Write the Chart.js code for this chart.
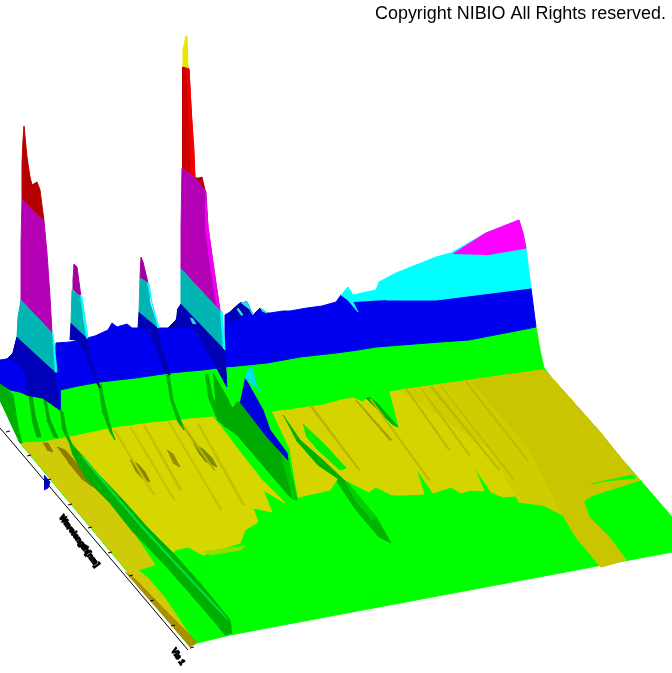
<!DOCTYPE html>
<html>
<head>
<meta charset="utf-8">
<style>
  html, body { margin: 0; padding: 0; background: #fff; }
  canvas { display: block; }
</style>
<script src="https://cdn.jsdelivr.net/npm/chart.js@4"></script>
</head>
<body>
<canvas id="surface" width="672" height="673"></canvas>
<script>
// outlines, in picture units
const floorGreen = [[0,380],[0,400],[20,443],[190,647],[197,643],[230,635],[336,615],[672,552],[672,517],[640,480],[552,378],[544,368],[540,350],[536,327],[376,340],[227,360],[60,385]];
const yellowCenter = [[70,437],[113,428],[150,423],[190,419],[213,417],[222,428],[240,452],[262,480],[285,503],[263,490],[272,512],[253,508],[258,522],[245,530],[240,543],[203,555],[188,547],[175,550],[173,553],[147,527],[123,500],[97,473],[77,450]];
const yellowRight = [[272,412],[287,410],[323,405],[341,400],[353,398],[363,402],[369,397],[398,427],[389,392],[436,385],[500,376],[543,370],[552,378],[600,432],[636,477],[640,480],[593,495],[583,500],[589,517],[609,537],[626,560],[601,567],[576,537],[563,515],[543,505],[519,502],[526,495],[503,497],[491,492],[473,465],[484,491],[471,490],[461,493],[451,487],[433,493],[416,468],[424,494],[405,495],[393,495],[389,480],[392,495],[376,487],[369,492],[345,480],[338,478],[330,490],[298,497],[290,450]];
const yellowMid = [[400,390],[436,385],[500,376],[543,370],[552,378],[600,432],[636,477],[600,490],[563,515],[543,505],[519,502],[490,450]];
const yellowFarRight = [[470,380],[500,376],[543,370],[552,378],[600,432],[636,477],[640,480],[593,495],[583,500],[589,517],[609,537],[626,560],[601,567],[576,537],[563,515],[550,490],[530,450]];
const greenSliver = [[591,484],[633,475],[636,478],[605,481]];
const yellowLeft = [[20,443],[43,442],[70,437],[77,450],[72,453],[87,480],[110,503],[133,532],[155,565],[138,570],[148,578],[165,598],[195,643],[190,647]];
const oliveEdge = [[125,572],[134,578],[170,615],[197,642],[190,647]];
const darkStrip = [[68,440],[77,450],[97,473],[123,500],[147,527],[173,553],[200,583],[230,620],[232,633],[225,635],[213,620],[187,590],[163,563],[133,532],[110,503],[87,480],[72,453]];
const stripLine = [[82,455],[143,527],[180,567],[220,610],[228,620],[219,611],[179,568],[142,528],[81,456]];
const limeStrip = [[203,552],[245,546],[240,550],[210,555]];
const rightLens = [[336,470],[356,493],[376,517],[391,543],[379,537],[356,510],[336,480]];
const rightLensLit = [[340,474],[358,495],[376,518],[372,520],[355,500]];
const rightStreak = [[283,415],[300,440],[325,462],[346,482],[340,480],[318,465],[296,440]];
const greenStreak = [[303,424],[325,445],[346,468],[340,470],[318,450],[306,436]];
const wedge = [[213,373],[230,403],[240,402],[288,460],[297,500],[290,497],[237,435],[217,420]];
const wedgeEdge = [[288,460],[297,500],[293,499],[280,450]];
const greenDip = [[369,397],[376,400],[398,427],[389,392],[380,375],[358,385]];
const dipShade = [[369,397],[378,404],[398,427],[392,424],[366,398]];

const leftGreenDark = [[0,383],[13,395],[18,427],[22,443],[20,443],[0,400]];
const ridgeA = [[28,393],[32,395],[35,415],[41,437],[37,437],[32,420]];
const ridgeB = [[43,398],[46,400],[50,420],[58,438],[54,437],[47,420]];
const ridgeC = [[60,410],[63,412],[66,430],[72,445],[68,440],[62,428]];
const ridgeD = [[98,384],[101,384],[105,405],[112,432],[115,440],[110,432],[102,410]];
const ridgeE = [[166,375],[169,375],[173,400],[182,424],[184,430],[178,422],[170,398]];
const ridgeF = [[205,375],[208,374],[212,395],[222,420],[226,428],[216,416],[208,396]];

const streakA = [[130,460],[138,464],[145,472],[150,482],[142,478],[135,470]];
const streakB = [[167,450],[173,454],[180,467],[173,463]];
const streakC = [[193,443],[204,450],[212,458],[217,467],[205,461],[198,452]];
const streakD = [[43,443],[48,443],[53,452],[47,450]];
const streakE = [[57,447],[65,450],[80,467],[93,487],[82,479],[68,462]];
const streakF = [[143,426],[145,425],[182,490],[179,490]];
const streakG = [[113,430],[115,430],[155,495],[152,494]];
const streakH = [[197,424],[199,424],[245,505],[242,505]];
const streakI = [[355,400],[358,402],[392,440],[389,440]];
const streakJ = [[430,387],[432,386],[500,470],[498,470]];
const streakK = [[465,382],[467,382],[528,460],[526,460]];
const streakL = [[130,428],[131,427],[175,500],[173,500]];
const streakM = [[168,422],[169,421],[222,510],[220,510]];
const streakN = [[178,421],[180,420],[215,470],[213,470]];
const streakO = [[310,407],[312,406],[360,470],[358,470]];
const streakP = [[405,389],[407,389],[450,450],[448,450]];
const streakQ = [[420,388],[421,388],[470,455],[468,455]];
const streakR = [[370,400],[371,399],[430,480],[428,480]];
const streakS = [[440,386],[441,386],[515,480],[513,480]];

const blueBack = [[0,362],[7,359],[13,353],[17,337],[55,372],[56,343],[70,342],[87,338],[95,336],[108,330],[112,323],[117,327],[127,324],[132,328],[138,328],[158,328],[168,328],[176,320],[181,304],[225,350],[225,315],[230,312],[240,303],[247,302],[253,315],[260,308],[265,313],[270,313],[283,311],[290,311],[307,308],[322,306],[336,302],[341,295],[353,302],[386,300],[436,300],[531,288],[536,327],[469,340],[440,342],[376,347],[358,350],[336,353],[300,357],[267,363],[227,367],[202,370],[170,373],[135,378],[100,382],[78,386],[60,390],[60,410],[43,398],[27,395],[0,383]];
const navyLeft = [[0,362],[7,359],[13,353],[17,337],[55,372],[60,410],[43,398],[27,395],[25,372],[13,360],[7,359]];
const blueBlob = [[0,360],[7,359],[13,365],[20,373],[25,393],[10,390],[0,383]];
const navyB = [[70,340],[71,323],[87,338],[90,358],[100,388],[96,382],[87,358],[78,340]];
const navyC = [[138,328],[139,312],[158,328],[161,345],[170,375],[165,372],[155,345],[148,330]];
const navyD = [[177,310],[181,304],[225,350],[227,387],[207,350],[193,327],[170,327],[176,320]];
const midBump = [[230,312],[240,303],[247,302],[250,312],[240,318],[228,322]];
const bumpCyan = [[241,303],[247,302],[253,315],[250,310]];
const bumpCyanB = [[238,308],[243,315],[241,315],[237,309]];
const bumpCyanC = [[260,308],[264,310],[267,313],[262,311]];
const navyCyan = [[190,318],[193,319],[196,324],[192,323]];
const greenNotch = [[227,367],[228,385],[230,403],[233,407],[238,398],[243,385],[247,370]];
const blueTri = [[245,378],[263,410],[270,430],[287,453],[288,460],[267,437],[240,402]];
const cyanTri = [[247,370],[252,368],[258,390],[262,392],[245,378]];

const cyanBand = [[353,302],[358,312],[348,300],[341,295],[348,287],[353,295],[376,290],[379,282],[396,273],[436,257],[451,253],[486,233],[519,220],[523,233],[526,248],[531,288],[436,300],[386,300]];
const magentaCap = [[453,254],[486,233],[519,220],[523,233],[526,248],[486,255]];

const peak1Red = [[22,199],[22,163],[23,140],[24,126],[27,157],[30,177],[32,185],[37,182],[40,190],[44,221]];
const peak1Magenta = [[21,301],[21,243],[22,199],[44,221],[47,253],[50,297],[52,333]];
const peak1Cyan = [[17,337],[18,317],[21,300],[52,333],[55,372]];
const peak1Edge = [[52,333],[53,333],[57,372],[55,372]];
const peak2Magenta = [[73,290],[73,280],[74,264],[77,267],[81,297]];
const peak2Cyan = [[71,323],[72,290],[81,297],[83,320],[87,338]];
const peak2Edge = [[80,295],[82,297],[88,338],[86,338]];
const peak3Magenta = [[140,278],[141,257],[143,262],[148,283]];
const peak3Cyan = [[139,312],[140,278],[148,283],[150,303],[158,328]];
const peak3Edge = [[147,283],[149,284],[152,303],[159,328],[157,327]];
const peak4Yellow = [[183,67],[183,50],[186,36],[187,36],[188,68],[189,69]];
const peak4Red = [[182,168],[182,93],[183,67],[189,69],[191,107],[193,150],[195,178]];
const peak4RedLit = [[186,68],[189,69],[191,107],[194,150],[195,178],[191,174],[189,130]];
const peak4Bump = [[195,178],[199,178],[202,177],[205,190],[206,192]];
const peak4Magenta = [[181,269],[181,227],[182,168],[195,178],[206,192],[208,227],[213,263],[220,311]];
const peak4MagentaLit = [[205,190],[208,227],[213,263],[220,311],[217,307],[210,263],[205,227]];
const peak4Cyan = [[181,304],[181,269],[220,311],[223,348]];
const peak4Edge = [[220,311],[222,311],[225,350],[223,348]];

const axisX = [0, 188];
const axisY = [428, 650];
const tickX = [6, 27, 47, 68, 88, 108, 129, 150, 171, 190];
const tickY = [432, 456, 480, 505, 528, 553, 576, 601, 626, 648];
const blueBlip = [[44,475],[50,482],[48,488],[44,490]];

const axisTitle = 'Wavelength[nm]';
const axisEnd = 'Vis 1';
const copyright = 'Copyright NIBIO All Rights reserved.';

const layers = [
  [floorGreen, '#00ff00'],
  [rightLens, '#00b400'],
  [rightLensLit, '#00d000'],
  [yellowRight, '#d6d400'],
  [yellowMid, '#cfcc00'],
  [yellowFarRight, '#c9c500'],
  [greenSliver, '#00ff00'],
  [rightStreak, '#00b000'],
  [greenStreak, '#00f000'],
  [greenDip, '#00ff00'],
  [dipShade, '#00b000'],
  [streakI, '#a8a000'],
  [streakJ, '#bcb800'],
  [streakK, '#bfbb00'],
  [streakO, '#b8b400'],
  [streakP, '#bcb800'],
  [streakQ, '#bcb800'],
  [streakR, '#bcb800'],
  [streakS, '#bfbb00'],
  [yellowCenter, '#d6d600'],
  [streakA, '#8c8200'],
  [streakB, '#988e00'],
  [streakC, '#7e8a00'],
  [streakF, '#c4c200'],
  [streakG, '#c4c200'],
  [streakH, '#c4c200'],
  [streakL, '#c4c200'],
  [streakM, '#c4c200'],
  [streakN, '#b4b000'],
  [limeStrip, '#90e000'],
  [yellowLeft, '#cfcb08'],
  [oliveEdge, '#a89000'],
  [streakD, '#8c7e00'],
  [streakE, '#8c7e00'],
  [darkStrip, '#00b000'],
  [stripLine, '#00e040'],
  [leftGreenDark, '#00b000'],
  [ridgeA, '#00a800'],
  [ridgeB, '#00a800'],
  [ridgeC, '#00a800'],
  [ridgeD, '#00b000'],
  [ridgeE, '#00b000'],
  [ridgeF, '#00b000'],
  [wedge, '#00aa00'],
  [wedgeEdge, '#00c800'],
  [blueBack, '#0000f0'],
  [navyLeft, '#0000b8'],
  [blueBlob, '#0000f0'],
  [navyB, '#0000b4'],
  [navyC, '#0000b4'],
  [navyD, '#0000b4'],
  [midBump, '#0000b4'],
  [bumpCyan, '#30e0e0'],
  [bumpCyanB, '#30e0e0'],
  [bumpCyanC, '#30e0e0'],
  [navyCyan, '#30d0e0'],
  [greenNotch, '#00ff00'],
  [blueTri, '#0000e0'],
  [cyanTri, '#00e0e0'],
  [cyanBand, '#00ffff'],
  [magentaCap, '#ff00ff'],
  [peak1Red, '#b40000'],
  [peak1Magenta, '#b400b4'],
  [peak1Cyan, '#00b4b4'],
  [peak1Edge, '#00ffff'],
  [peak2Magenta, '#a000a0'],
  [peak2Cyan, '#00b4b4'],
  [peak2Edge, '#00ffff'],
  [peak3Magenta, '#a000a0'],
  [peak3Cyan, '#00b4b4'],
  [peak3Edge, '#00ffff'],
  [peak4Yellow, '#e6e600'],
  [peak4Red, '#c80000'],
  [peak4RedLit, '#f00000'],
  [peak4Bump, '#b40000'],
  [peak4Magenta, '#b400b4'],
  [peak4MagentaLit, '#f000f0'],
  [peak4Cyan, '#00b4b4'],
  [peak4Edge, '#00ffff'],
  [blueBlip, '#0000e0']
];

const toPoints = (outline) => outline.map(([x, y]) => ({ x, y }));

const datasets = layers.map(([outline, color], i) => ({
  data: toPoints(outline),
  showLine: true,
  fill: 'shape',
  backgroundColor: color,
  borderColor: color,
  borderWidth: 1,
  pointRadius: 0,
  tension: 0,
  order: layers.length - i + 20
}));

// axis line and its ticks go on top of the surface
datasets.push({
  data: [{ x: axisX[0], y: axisY[0] }, { x: axisX[1], y: axisY[1] }],
  showLine: true, borderColor: '#000', borderWidth: 1, pointRadius: 0, order: 1
});
tickX.forEach((x, i) => {
  datasets.push({
    data: [{ x: x, y: tickY[i] }, { x: x + 4, y: tickY[i] - 1 }],
    showLine: true, borderColor: '#000', borderWidth: 1, pointRadius: 0, order: 1
  });
});

// text along the axis, plus the notice in the corner
const labelsPlugin = {
  id: 'labels',
  afterDraw(chart) {
    const { ctx, scales } = chart;
    const put = (text, x, y, angle, font, w, heavy) => {
      ctx.save();
      ctx.translate(scales.x.getPixelForValue(x), scales.y.getPixelForValue(y));
      ctx.rotate(angle);
      ctx.font = font;
      ctx.fillStyle = '#000';
      ctx.strokeStyle = '#000';
      ctx.lineWidth = heavy;
      ctx.textBaseline = 'middle';
      ctx.fillText(text, 0, 0, w);
      if (heavy) ctx.strokeText(text, 0, 0, w);
      ctx.restore();
    };
    put(axisTitle, 61, 516, 0.94, 'bold 8px "Liberation Sans"', 64, 1.4);
    put(axisEnd, 173, 649, 1.0, 'bold 8px "Liberation Sans"', 18, 1.4);
    put(copyright, 375, 14, 0, '18px "Liberation Sans"', 291, 0);
  }
};

new Chart(document.getElementById('surface'), {
  type: 'scatter',
  data: { datasets },
  plugins: [labelsPlugin],
  options: {
    responsive: false,
    animation: false,
    layout: { padding: 0 },
    plugins: { legend: { display: false }, tooltip: { enabled: false } },
    scales: {
      x: { type: 'linear', display: false, min: 0, max: 672 },
      y: { type: 'linear', display: false, min: 0, max: 673, reverse: true }
    }
  }
});
</script>
</body>
</html>
